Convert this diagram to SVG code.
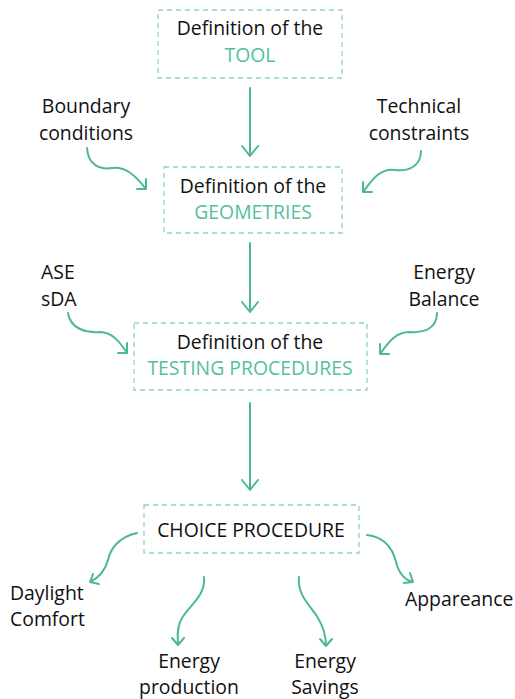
<svg xmlns="http://www.w3.org/2000/svg" width="515" height="699" viewBox="0 0 515 699">
<style>
.box{fill:none;stroke:#8fd5bd;stroke-width:1.3;stroke-dasharray:5 4}
.t{font-family:"Open Sans","Liberation Sans",sans-serif;font-size:19.4px;fill:#111;text-anchor:middle}
.s{text-anchor:start}
.g{fill:#55bf9b}
.c path{fill:none;stroke:#4cb994;stroke-width:2;stroke-linecap:round;stroke-linejoin:round}
</style>
<rect width="515" height="699" fill="#fff"/>
<g id="tool"><rect class="box" x="158" y="10" width="184" height="68"/><text class="t" x="250" y="35">Definition of the</text><text class="t g" x="250" y="62">TOOL</text></g>
<g id="geometries"><rect class="box" x="164" y="167" width="178" height="66"/><text class="t" x="253" y="193">Definition of the</text><text class="t g" x="253" y="219">GEOMETRIES</text></g>
<g id="testing"><rect class="box" x="134" y="323" width="233" height="67"/><text class="t" x="250" y="349">Definition of the</text><text class="t g" x="250" y="375">TESTING PROCEDURES</text></g>
<g id="choice"><rect class="box" x="144" y="505" width="215" height="48"/><text class="t" x="251" y="537">CHOICE PROCEDURE</text></g>
<g id="boundary"><text class="t" x="86" y="113">Boundary</text><text class="t" x="86" y="140">conditions</text></g>
<g id="technical"><text class="t" x="419" y="113">Technical</text><text class="t" x="419" y="140">constraints</text></g>
<g id="asesda"><text class="t s" x="41" y="279">ASE</text><text class="t s" x="41" y="306">sDA</text></g>
<g id="energybalance"><text class="t" x="444" y="279">Energy</text><text class="t" x="444" y="306">Balance</text></g>
<g id="daylight"><text class="t s" x="10" y="600">Daylight</text><text class="t s" x="10" y="626">Comfort</text></g>
<g id="production"><text class="t" x="189" y="668">Energy</text><text class="t" x="189" y="694">production</text></g>
<g id="savings"><text class="t" x="325" y="668">Energy</text><text class="t" x="325" y="694">Savings</text></g>
<g id="appareance"><text class="t s" x="405" y="606">Appareance</text></g>
<g id="connectors" class="c">
<path d="M250,88 V156 M242,146 L250,156 L258,146"/>
<path d="M250,243 V312 M242,302 L250,312 L258,302"/>
<path d="M250,403 V490 M242,480 L250,490 L258,480"/>
<path d="M87,148 C88,165 100,170 112,168 C125,166 135,175 146,189 M146,179 L146,189 L137,189"/>
<path d="M421,151 C421,165 410,172 395,170 C380,168 372,180 363,192 M363,182 L363,192 L372,192"/>
<path d="M68,313 C70,328 85,333 100,332 C112,332 120,342 127,353 M127,343 L127,353 L118,353"/>
<path d="M437,313 C437,328 425,333 410,332 C395,332 388,343 380,354 M380,344 L380,354 L389,354"/>
<path d="M137,533 C118,537 110,550 108,560 C105,572 98,578 90,582 M99,584 L90,582 L93,574"/>
<path d="M204,577 C206,595 190,605 182,618 C176,628 178,638 178,645 M172,638 L178,645 L184,638"/>
<path d="M299,577 C297,595 310,605 318,618 C324,628 326,638 326,646 M320,639 L326,646 L332,639"/>
<path d="M367,535 C385,537 393,550 396,562 C399,574 405,580 413,582 M410,573 L413,582 L404,583"/>
</g>
</svg>
